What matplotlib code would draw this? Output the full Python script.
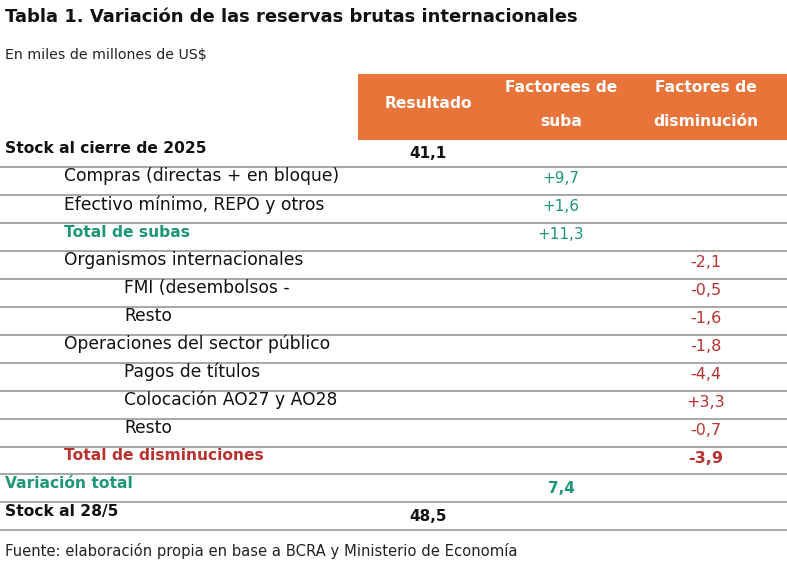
import matplotlib
matplotlib.use("Agg")
import matplotlib.pyplot as plt
from matplotlib.patches import Rectangle

plt.rcParams['font.family'] = ['DejaVu Sans']

title = "Tabla 1. Variación de las reservas brutas internacionales"
subtitle = "En miles de millones de US$"
source = "Fuente: elaboración propia en base a BCRA y Ministerio de Economía"
headers = ["Resultado", "Factorees de\nsuba", "Factores de\ndisminución"]

labels = ["Stock al cierre de 2025", "Compras (directas + en bloque)",
          "Efectivo mínimo, REPO y otros", "Total de subas",
          "Organismos internacionales", "FMI (desembolsos -", "Resto",
          "Operaciones del sector público", "Pagos de títulos",
          "Colocación AO27 y AO28", "Resto", "Total de disminuciones",
          "Variación total", "Stock al 28/5"]
levels = [0, 1, 1, 1, 1, 2, 2, 1, 2, 2, 2, 1, 0, 0]
kinds = ["stock", "item", "item", "totup", "item", "item", "item", "item",
         "item", "item", "item", "totdown", "var", "stock"]
resultado = [41.1, None, None, None, None, None, None, None, None, None, None, None, None, 48.5]
suba = [None, 9.7, 1.6, 11.3, None, None, None, None, None, None, None, None, 7.4, None]
disminucion = [None, None, None, None, -2.1, -0.5, -1.6, -1.8, -4.4, 3.3, -0.7, -3.9, None, None]

W, H = 787, 571
ORANGE = "#E8743A"
GREEN = "#1E9678"
RED = "#B83330"
GRID = "#8F8F8F"

fig = plt.figure(figsize=(W / 100, H / 100), dpi=100)
ax = fig.add_axes([0, 0, 1, 1])
ax.set_xlim(0, W)
ax.set_ylim(H, 0)
ax.axis("off")


def fmt(v, signed):
    s = f"{abs(v):.1f}".replace(".", ",")
    if v < 0:
        return "-" + s
    return ("+" + s) if signed else s


ax.text(5, 17, title, fontsize=13.0, fontweight="bold", va="center", ha="left", color="#111111")
ax.text(5, 55, subtitle, fontsize=10.2, va="center", ha="left", color="#222222")

ax.add_patch(Rectangle((358, 74), W - 358, 66, facecolor=ORANGE, edgecolor="none"))
col_x = [428, 561, 706]
ax.text(col_x[0], 104, headers[0], fontsize=11.2, fontweight="bold", color="white", ha="center", va="center")
for j in (1, 2):
    l1, l2 = headers[j].split("\n")
    ax.text(col_x[j], 88, l1, fontsize=11.2, fontweight="bold", color="white", ha="center", va="center")
    ax.text(col_x[j], 121, l2, fontsize=11.2, fontweight="bold", color="white", ha="center", va="center")

indent_x = [5, 64, 124]
row_h = 27.95
first_bottom = 167
for i, lab in enumerate(labels):
    bottom = first_bottom + row_h * i
    ax.plot([0, W], [bottom, bottom], color=GRID, lw=1.1, solid_capstyle="butt")
    k = kinds[i]
    if k == "stock":
        color, weight, fs = "#111111", "bold", 11.2
    elif k == "totup" or k == "var":
        color, weight, fs = GREEN, "bold", 11.2
    elif k == "totdown":
        color, weight, fs = RED, "bold", 11.2
    else:
        color, weight, fs = "#111111", "normal", 12.3
    ly = bottom - 18.5
    ax.text(indent_x[levels[i]], ly, lab, fontsize=fs, fontweight=weight, color=color, ha="left", va="center")
    vy = bottom - (14 if levels[i] == 0 else 16)
    if resultado[i] is not None:
        ax.text(col_x[0], vy, fmt(resultado[i], False), fontsize=11, fontweight="bold",
                color="#111111", ha="center", va="center")
    if suba[i] is not None:
        signed = k != "var"
        ax.text(col_x[1], vy, fmt(suba[i], signed), fontsize=11,
                fontweight="bold" if k == "var" else "normal", color=GREEN, ha="center", va="center")
    if disminucion[i] is not None:
        ax.text(col_x[2], vy, fmt(disminucion[i], True), fontsize=11.5,
                fontweight="bold" if k == "totdown" else "normal", color=RED, ha="center", va="center")

ax.text(5, 551, source, fontsize=10.6, va="center", ha="left", color="#222222")

fig.savefig("out.png", dpi=100)
